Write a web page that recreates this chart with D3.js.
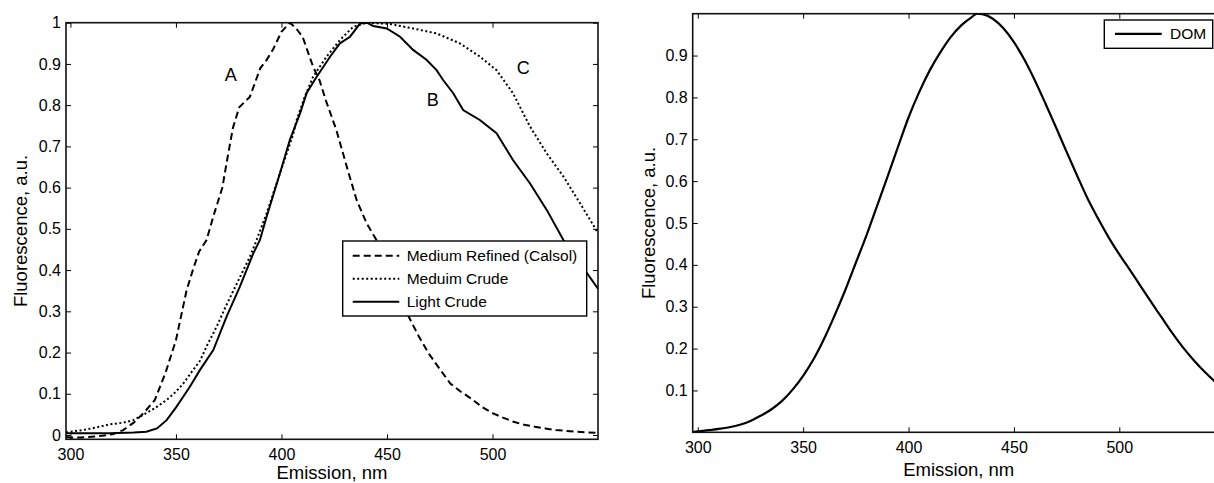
<!DOCTYPE html>
<html><head><meta charset="utf-8">
<script src="https://cdn.jsdelivr.net/npm/d3@7"></script>
<style>body{margin:0;background:#fff}svg{display:block}text{font-family:"Liberation Sans",Arial,sans-serif;fill:#000}</style>
</head><body>
<svg id="c" width="1214" height="483"></svg>
<script>
// ---- data (left panel) ----
const refinedNm  = [298,300,305,310,315,320,325,330,335,340,345,350,355,358,361,364.5,368,372,374,377,380,385,390,393,396,400,404,407,410,415,418,421,426,431,435.6,440.4,445,450,455,460,465,470,475,480,485,490,495,500,505,510,515,520,525,530,535,540,545,550];
const refinedVal = [-0.005,-0.006,-0.006,-0.004,-0.002,0.002,0.012,0.03,0.055,0.085,0.15,0.23,0.35,0.40,0.445,0.473,0.535,0.60,0.66,0.745,0.795,0.82,0.89,0.91,0.935,0.978,1.0,0.986,0.966,0.893,0.861,0.812,0.74,0.65,0.57,0.513,0.473,0.41,0.35,0.29,0.24,0.196,0.16,0.125,0.105,0.088,0.068,0.053,0.042,0.032,0.025,0.02,0.016,0.012,0.010,0.008,0.006,0.005];
const mediumNm   = [298,300,306,312,318.7,325,329.8,336,340,345.6,350,353.5,357,361.4,365,369.3,373,377.2,381,385,388,393,399.3,405.6,407.2,411,415,421.4,427.7,434,440.4,451.4,462.4,473.5,484.5,494,501.9,509.7,517.8,525.7,533.6,541.5,550];
const mediumVal  = [0.006,0.008,0.012,0.018,0.026,0.03,0.036,0.053,0.065,0.085,0.105,0.125,0.15,0.18,0.22,0.263,0.305,0.35,0.39,0.432,0.47,0.538,0.635,0.73,0.764,0.82,0.869,0.918,0.958,0.99,1.0,0.997,0.986,0.974,0.95,0.918,0.885,0.829,0.748,0.683,0.627,0.562,0.49];
const lightNm    = [298,300,318.7,330,336,341,345.6,350.3,356.6,361.4,367.7,374,380.3,386.6,389.8,393,399.3,404,408.8,412,416.7,423.1,427.7,432.5,437.2,440.4,443.5,449.9,456.2,462.4,468.7,473.5,476.6,481.4,486.1,494,501.9,509.7,517.8,525.7,533.6,540,544.6,550];
const lightVal   = [0.004,0.004,0.004,0.006,0.008,0.016,0.036,0.069,0.117,0.158,0.206,0.287,0.36,0.44,0.473,0.53,0.635,0.716,0.78,0.83,0.869,0.918,0.95,0.966,0.998,1.0,0.992,0.986,0.966,0.934,0.91,0.885,0.861,0.829,0.788,0.764,0.732,0.667,0.61,0.546,0.473,0.42,0.394,0.355];
const leftSeriesNames = ["Medium Refined (Calsol)","Meduim Crude","Light Crude"];
const peakLabels = ["A","B","C"];
const peakLabelAt = [[376,0.859],[471.7,0.798],[514.6,0.876]];
// ---- data (right panel) ----
const domNm  = [298,300,305,310,315,320,325,330,335,340,345,350,355,360,365,370,375,380,385,390,395,400,405,410,415,420,425,430,432.5,435,440,445,450,455,460,465,470,475,480,485,490,495,500,505,510,515,520,525,530,535,540,545,550];
const domVal = [0.001,0.002,0.005,0.008,0.012,0.018,0.027,0.04,0.055,0.075,0.102,0.135,0.175,0.224,0.28,0.34,0.405,0.47,0.54,0.61,0.682,0.752,0.812,0.864,0.907,0.944,0.972,0.992,1.0,0.999,0.988,0.965,0.932,0.89,0.84,0.785,0.728,0.67,0.613,0.558,0.51,0.465,0.425,0.388,0.35,0.312,0.275,0.238,0.204,0.174,0.147,0.123,0.102];
const rightSeriesNames = ["DOM"];
// ---- ticks ----
const xTicks = [300,350,400,450,500];
const yTicksLeft = [0,0.1,0.2,0.3,0.4,0.5,0.6,0.7,0.8,0.9,1];
const yTicksRight = [0.1,0.2,0.3,0.4,0.5,0.6,0.7,0.8,0.9];
const xLabel = "Emission, nm";
const yLabel = "Fluorescence, a.u.";

const svg = d3.select("#c");
const TICK = 5;

function panel(opt){
  const g = svg.append("g");
  const x = d3.scaleLinear().domain(opt.xd).range([opt.x0,opt.x1]);
  const y = d3.scaleLinear().domain(opt.yd).range([opt.y1,opt.y0]);
  const id = "clip"+opt.id;
  svg.append("clipPath").attr("id",id).append("rect")
    .attr("x",opt.x0).attr("y",opt.y0).attr("width",opt.x1-opt.x0).attr("height",opt.y1-opt.y0);
  const fmt = d => d===0?"0":d===1?"1":d3.format(".1f")(d);
  const ax = g.append("g").attr("transform",`translate(0,${opt.y1})`)
    .call(d3.axisBottom(x).tickValues(xTicks).tickSizeInner(-TICK).tickSizeOuter(0).tickPadding(7).tickFormat(d3.format("d")));
  const axT = g.append("g").attr("transform",`translate(0,${opt.y0})`)
    .call(d3.axisTop(x).tickValues(xTicks).tickSizeInner(-TICK).tickSizeOuter(0).tickFormat(""));
  const ay = g.append("g").attr("transform",`translate(${opt.x0},0)`)
    .call(d3.axisLeft(y).tickValues(opt.yt).tickSizeInner(-TICK).tickSizeOuter(0).tickPadding(5).tickFormat(fmt));
  const ayR = g.append("g").attr("transform",`translate(${opt.x1},0)`)
    .call(d3.axisRight(y).tickValues(opt.yt).tickSizeInner(-TICK).tickSizeOuter(0).tickFormat(""));
  [ax,axT,ay,ayR].forEach(a=>{
    a.select(".domain").remove();
    a.selectAll("line").attr("stroke","#000").attr("stroke-width",1);
    a.selectAll("text").style("font-size","16px").attr("fill","#000");
  });
  ax.selectAll("text").attr("dy","0.85em");
  g.append("rect").attr("x",opt.x0).attr("y",opt.y0).attr("width",opt.x1-opt.x0).attr("height",opt.y1-opt.y0)
    .attr("fill","none").attr("stroke","#111").attr("stroke-width",1.6);
  g.append("text").attr("x",(opt.x0+opt.x1)/2).attr("y",opt.xly).attr("text-anchor","middle")
    .style("font-size","18.5px").text(xLabel);
  g.append("text").attr("transform",`translate(${opt.ylx},${(opt.y0+opt.y1)/2}) rotate(-90)`)
    .attr("text-anchor","middle").style("font-size","18.5px").text(yLabel);
  return {g,x,y,clip:id};
}

// left panel
const L = panel({id:"L",x0:66,x1:598,y0:22.7,y1:439.3,xd:[297.9,550],yd:[-0.0104,1],yt:yTicksLeft,ylx:27,xly:479});
const lineL = d3.line().x(d=>L.x(d[0])).y(d=>L.y(d[1]));
const leftSeries = [
  {nm:refinedNm,val:refinedVal,dash:"7,4"},
  {nm:mediumNm,val:mediumVal,dash:"2,2.5"},
  {nm:lightNm,val:lightVal,dash:null}
];
const cg = L.g.append("g").attr("clip-path",`url(#${L.clip})`);
leftSeries.forEach(s=>{
  cg.append("path").datum(d3.zip(s.nm,s.val)).attr("d",lineL)
    .attr("fill","none").attr("stroke","#000").attr("stroke-width",2)
    .attr("stroke-dasharray",s.dash);
});
peakLabels.forEach((t,i)=>{
  L.g.append("text").attr("x",L.x(peakLabelAt[i][0])).attr("y",L.y(peakLabelAt[i][1]))
    .attr("text-anchor","middle").style("font-size","18px").text(t);
});
const lg = L.g.append("g");
lg.append("rect").attr("x",342.7).attr("y",241).attr("width",244).attr("height",75)
  .attr("fill","#fff").attr("stroke","#000").attr("stroke-width",1.4);
leftSeriesNames.forEach((n,i)=>{
  const cy = 255.7 + i*23;
  lg.append("line").attr("x1",352.7).attr("x2",399.3).attr("y1",cy).attr("y2",cy)
    .attr("stroke","#000").attr("stroke-width",2).attr("stroke-dasharray",leftSeries[i].dash);
  lg.append("text").attr("x",406.7).attr("y",cy).attr("dy","0.35em").style("font-size","15.5px").text(n);
});

// right panel
const R = panel({id:"R",x0:692.7,x1:1224.7,y0:13.7,y1:432.3,xd:[297.6,550],yd:[0,1],yt:yTicksRight,ylx:655,xly:476});
const lineR = d3.line().x(d=>R.x(d[0])).y(d=>R.y(d[1])).curve(d3.curveMonotoneX);
R.g.append("g").attr("clip-path",`url(#${R.clip})`).append("path")
  .datum(d3.zip(domNm,domVal)).attr("d",lineR)
  .attr("fill","none").attr("stroke","#000").attr("stroke-width",2.2);
const rg = R.g.append("g");
rg.append("rect").attr("x",1104.3).attr("y",20).attr("width",108.4).attr("height",28.3)
  .attr("fill","#fff").attr("stroke","#000").attr("stroke-width",1.4);
rg.append("line").attr("x1",1115).attr("x2",1161.7).attr("y1",33.8).attr("y2",33.8)
  .attr("stroke","#000").attr("stroke-width",2.2);
rg.append("text").attr("x",1170).attr("y",33.8).attr("dy","0.35em").style("font-size","15.5px").text(rightSeriesNames[0]);
</script>
</body></html>
